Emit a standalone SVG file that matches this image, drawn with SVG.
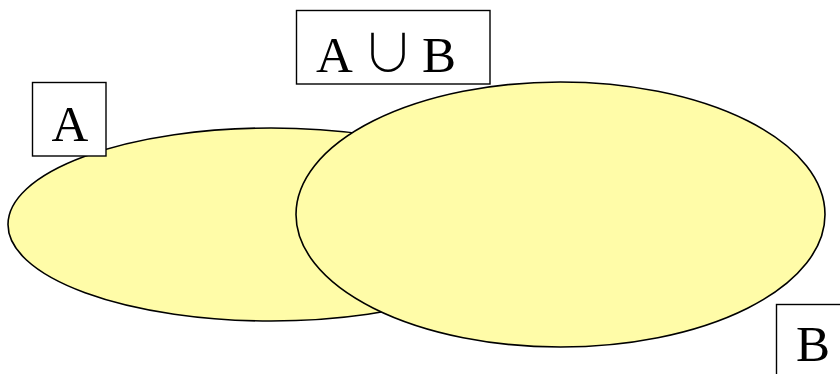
<svg xmlns="http://www.w3.org/2000/svg" width="840" height="374" viewBox="0 0 840 374">
<style>
.set{fill:#fffca8;stroke:#000;stroke-width:1.6}
.lbl{fill:#fff;stroke:#000;stroke-width:1.4}
.t{font-family:"Liberation Serif","Times New Roman",serif;font-size:51px;fill:#000}
.u{font-family:"Noto Sans CJK JP","DejaVu Sans",sans-serif;font-size:52px;font-weight:300}
</style>
<rect width="840" height="374" fill="#fff"/>
<g id="setA"><ellipse class="set" cx="271" cy="224.5" rx="263" ry="96.5"/></g>
<g id="setB"><ellipse class="set" cx="560.5" cy="214.5" rx="264.5" ry="132.5"/></g>
<g id="labelA"><rect class="lbl" x="32.5" y="82.5" width="73.5" height="73.5"/><text class="t" x="51.5" y="141">A</text></g>
<g id="labelUnion"><rect class="lbl" x="296.5" y="10.5" width="193.5" height="73.5"/><text class="t" y="72"><tspan x="316">A</tspan><tspan class="u" x="362">∪</tspan><tspan x="422">B</tspan></text></g>
<g id="labelB"><rect class="lbl" x="776.5" y="304.5" width="80" height="80"/><text class="t" x="796" y="361">B</text></g>
<g id="connectors"></g>
</svg>
